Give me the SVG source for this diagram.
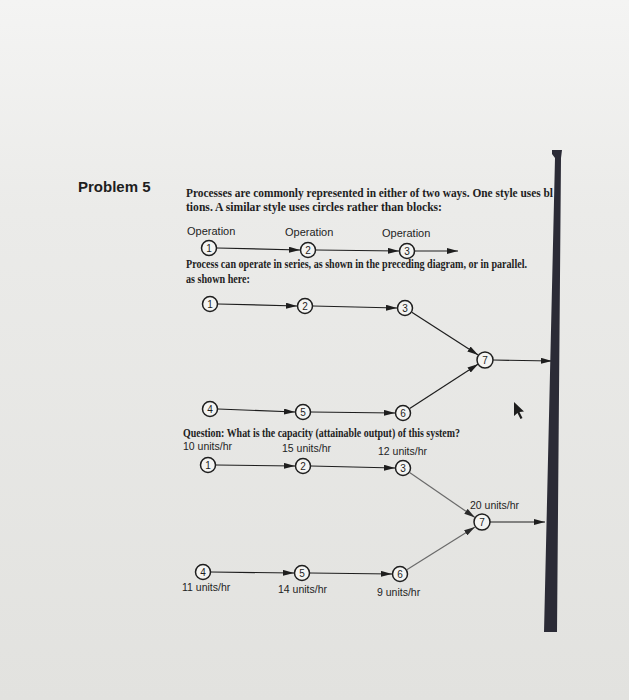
<svg xmlns="http://www.w3.org/2000/svg" width="629" height="700" viewBox="0 0 629 700">
<defs>
<linearGradient id="bg" x1="0" y1="0" x2="0" y2="1">
<stop offset="0" stop-color="#f4f4f3"/>
<stop offset="0.3" stop-color="#ebebe9"/>
<stop offset="1" stop-color="#e2e2df"/>
</linearGradient>
<marker id="ah" viewBox="0 0 11 6" refX="11" refY="3" markerWidth="11" markerHeight="6" markerUnits="userSpaceOnUse" orient="auto">
<path d="M0,0 L11,3 L0,6 Z" fill="#1e1e1e"/>
</marker>
<marker id="ahg" viewBox="0 0 11 6" refX="11" refY="3" markerWidth="11" markerHeight="6" markerUnits="userSpaceOnUse" orient="auto">
<path d="M0,0 L11,3 L0,6 Z" fill="#2a2a2a"/>
</marker>
</defs>
<style>
.body{font-family:"Liberation Serif","Times New Roman",serif;font-weight:bold;font-size:12px;fill:#1e1e1e}
.lab{font-family:"Liberation Sans",Arial,sans-serif;font-size:11px;fill:#1e1e1e}
.rate{font-family:"Liberation Sans",Arial,sans-serif;font-size:10.5px;fill:#1e1e1e}
.num{font-family:"Liberation Sans",Arial,sans-serif;font-size:10px;fill:#1e1e1e;text-anchor:middle}
.node circle{fill:#f4f4f2;stroke:#1e1e1e;stroke-width:1.5}
.con line{stroke:#1e1e1e;stroke-width:1.2;marker-end:url(#ah)}
.con line.gray{stroke:#6a6a6a;marker-end:url(#ahg)}
</style>
<rect width="629" height="700" fill="url(#bg)"/>

<text x="78" y="192" font-family="Liberation Sans,Arial,sans-serif" font-weight="bold" font-size="15" fill="#1e1e1e">Problem 5</text>
<text class="body" x="186" y="197" textLength="367" lengthAdjust="spacingAndGlyphs">Processes are commonly represented in either of two ways. One style uses bl</text>
<text class="body" x="186" y="211" textLength="256" lengthAdjust="spacingAndGlyphs">tions. A similar style uses circles rather than blocks:</text>
<text class="lab" x="187" y="235">Operation</text>
<text class="lab" x="285" y="236">Operation</text>
<text class="lab" x="382" y="237">Operation</text>
<text class="body" x="186" y="268" textLength="341" lengthAdjust="spacingAndGlyphs">Process can operate in series, as shown in the preceding diagram, or in parallel.</text>
<text class="body" x="186" y="283" textLength="64" lengthAdjust="spacingAndGlyphs">as shown here:</text>
<text class="body" x="183" y="437" textLength="277" lengthAdjust="spacingAndGlyphs">Question: What is the capacity (attainable output) of this system?</text>

<text class="rate" x="183" y="450">10 units/hr</text>
<text class="rate" x="282" y="452">15 units/hr</text>
<text class="rate" x="378" y="455">12 units/hr</text>
<text class="rate" x="470" y="509">20 units/hr</text>
<text class="rate" x="182" y="591">11 units/hr</text>
<text class="rate" x="278" y="593">14 units/hr</text>
<text class="rate" x="377" y="596">9 units/hr</text>

<g id="connectors" class="con">
<line x1="217" y1="248" x2="300" y2="250"/>
<line x1="316" y1="250" x2="399" y2="251"/>
<line x1="415" y1="251" x2="458" y2="251"/>

<line x1="218" y1="304" x2="297" y2="306"/>
<line x1="313" y1="306" x2="397" y2="308"/>
<line x1="411.8" y1="312.2" x2="478.2" y2="355"/>
<line x1="218" y1="409" x2="295" y2="412"/>
<line x1="311" y1="412" x2="395" y2="413"/>
<line x1="409.7" y1="408.6" x2="478.3" y2="364"/>
<line x1="493" y1="360" x2="552" y2="361"/>

<line x1="216" y1="465" x2="295" y2="466"/>
<line x1="311" y1="466" x2="395" y2="468"/>
<line class="gray" x1="409.6" y1="472.6" x2="475" y2="517.5"/>
<line x1="211" y1="572" x2="294" y2="573"/>
<line x1="310" y1="573" x2="392" y2="574"/>
<line class="gray" x1="406.8" y1="569.8" x2="475" y2="527"/>
<line x1="490" y1="522" x2="545" y2="522"/>
</g>

<g id="s1" class="node"><circle cx="209" cy="248" r="7.5"/><text class="num" x="209" y="251.5">1</text></g>
<g id="s2" class="node"><circle cx="308" cy="250" r="7.5"/><text class="num" x="308" y="253.5">2</text></g>
<g id="s3" class="node"><circle cx="407" cy="251" r="7.5"/><text class="num" x="407" y="254.5">3</text></g>

<g id="p1" class="node"><circle cx="210" cy="304" r="7.5"/><text class="num" x="210" y="307.5">1</text></g>
<g id="p2" class="node"><circle cx="305" cy="306" r="7.5"/><text class="num" x="305" y="309.5">2</text></g>
<g id="p3" class="node"><circle cx="405" cy="308" r="7.5"/><text class="num" x="405" y="311.5">3</text></g>
<g id="p4" class="node"><circle cx="210" cy="409" r="7.5"/><text class="num" x="210" y="412.5">4</text></g>
<g id="p5" class="node"><circle cx="303" cy="412" r="7.5"/><text class="num" x="303" y="415.5">5</text></g>
<g id="p6" class="node"><circle cx="403" cy="413" r="7.5"/><text class="num" x="403" y="416.5">6</text></g>
<g id="p7" class="node"><circle cx="485" cy="360" r="8"/><text class="num" x="485" y="363.5">7</text></g>

<g id="q1" class="node"><circle cx="208" cy="465" r="7.5"/><text class="num" x="208" y="468.5">1</text></g>
<g id="q2" class="node"><circle cx="303" cy="466" r="7.5"/><text class="num" x="303" y="469.5">2</text></g>
<g id="q3" class="node"><circle cx="403" cy="468" r="7.5"/><text class="num" x="403" y="471.5">3</text></g>
<g id="q4" class="node"><circle cx="203" cy="572" r="7.5"/><text class="num" x="203" y="575.5">4</text></g>
<g id="q5" class="node"><circle cx="302" cy="573" r="7.5"/><text class="num" x="302" y="576.5">5</text></g>
<g id="q6" class="node"><circle cx="400" cy="574" r="7.5"/><text class="num" x="400" y="577.5">6</text></g>
<g id="q7" class="node"><circle cx="482" cy="522" r="8"/><text class="num" x="482" y="525.5">7</text></g>

<polygon points="552,150 562,150 561,158 557,632 544,632 555,158 552,154" fill="#2b2b36"/>
<polygon points="514,402 514,416 517.5,413 520.5,419 522.5,418 519.5,412 524,411.5" fill="#1e1e1e"/>
</svg>
